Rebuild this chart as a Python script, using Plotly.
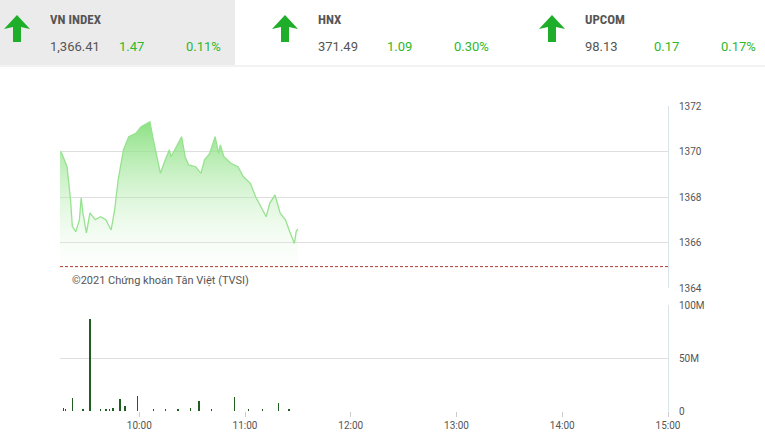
import plotly.graph_objects as go

day = "2021-06-01 "

# index line (time, value)
price_times = ["09:15", "09:16", "09:19", "09:21", "09:22", "09:24", "09:26", "09:27", "09:28", "09:30",
               "09:32", "09:35", "09:38", "09:41", "09:44", "09:46", "09:48", "09:51", "09:54", "09:58",
               "10:01", "10:04", "10:06", "10:08", "10:10", "10:12", "10:14", "10:17", "10:18", "10:21",
               "10:24", "10:26", "10:28", "10:32", "10:35", "10:37", "10:40", "10:43", "10:45", "10:46",
               "10:48", "10:52", "10:56", "10:59", "11:03", "11:06", "11:09", "11:12", "11:14", "11:17",
               "11:20", "11:23", "11:25", "11:28", "11:29", "11:30"]
price_values = [1370.0, 1369.92, 1369.33, 1367.87, 1366.7, 1366.48, 1366.99, 1367.96, 1367.3, 1366.42,
                1367.3, 1367.0, 1367.13, 1367.0, 1366.55, 1367.43, 1368.75, 1370.07, 1370.65, 1370.8,
                1371.09, 1371.24, 1371.31, 1370.5, 1369.77, 1369.04, 1369.48, 1370.07, 1369.77, 1370.2,
                1370.65, 1369.77, 1369.41, 1369.33, 1369.04, 1369.63, 1369.92, 1370.65, 1369.92, 1370.29,
                1369.77, 1369.48, 1369.33, 1368.9, 1368.6, 1368.01, 1367.57, 1367.13, 1367.72, 1368.09,
                1367.28, 1366.99, 1366.55, 1365.96, 1366.48, 1366.6]
ref_value = 1364.94

# volume bars
vol_times = ["09:17", "09:18", "09:22", "09:28", "09:32", "09:38", "09:41", "09:43", "09:45", "09:49",
             "09:52", "09:59", "10:08", "10:15", "10:22", "10:29", "10:34", "10:41", "10:54", "11:02",
             "11:10", "11:19", "11:25"]
vol_values = [3e6, 2e6, 12e6, 1e6, 87e6, 1e6, 1.5e6, 1e6, 2.5e6, 11e6,
              5e6, 14e6, 1e6, 2e6, 1.5e6, 3e6, 9e6, 1e6, 13e6, 1e6,
              1.5e6, 8e6, 1e6]

headers = [("VN INDEX", "1,366.41", "1.47", "0.11%"),
           ("HNX", "371.49", "1.09", "0.30%"),
           ("UPCOM", "98.13", "0.17", "0.17%")]

W, H = 765, 445
green = "#2db82d"
px = lambda v: v / W
py = lambda v: 1 - v / H

fig = go.Figure()
x_price = [day + t for t in price_times]
fig.add_trace(go.Scatter(x=x_price, y=[1364.0] * len(x_price), mode="lines",
                         line=dict(width=0), hoverinfo="skip", showlegend=False))
fig.add_trace(go.Scatter(x=x_price, y=price_values, mode="lines", fill="tonexty",
                         line=dict(color="#96e28f", width=1.3),
                         fillgradient=dict(type="vertical",
                                           colorscale=[[0, "rgba(255,255,255,0)"], [1, "rgba(120,220,110,0.85)"]]),
                         showlegend=False))
fig.add_trace(go.Scatter(x=[day + "09:15", day + "15:00"], y=[ref_value, ref_value], mode="lines",
                         line=dict(color="#b03a2e", width=1, dash="3px,2px"), showlegend=False))
fig.add_trace(go.Bar(x=[day + t for t in vol_times], y=vol_values, marker_color="#1e5e1e",
                     marker_line_width=0, width=18000, xaxis="x2", yaxis="y2", showlegend=False))

xr = [day + "09:15", day + "15:00"]
xdom = [px(60), px(668)]
tickv = [day + h for h in ["10:00", "11:00", "12:00", "13:00", "14:00", "15:00"]]
fig.update_layout(
    width=W, height=H, margin=dict(l=0, r=0, t=0, b=0, autoexpand=False),
    paper_bgcolor="white", plot_bgcolor="white",
    font=dict(family="Roboto, sans-serif", size=10, color="#555"),
    xaxis=dict(domain=xdom, range=xr, anchor="y", showticklabels=False, showgrid=False,
               zeroline=False),
    yaxis=dict(domain=[py(288), py(106)], range=[1364, 1372], dtick=2, side="right",
               showgrid=True, gridcolor="#dedede", zeroline=False, showline=True,
               linecolor="#d8e4ec", ticks="", ticklabelstandoff=8, anchor="x"),
    xaxis2=dict(domain=xdom, range=xr, anchor="y2", tickvals=tickv,
                ticktext=["10:00", "11:00", "12:00", "13:00", "14:00", "15:00"],
                showgrid=False, ticks="outside", ticklen=5, tickcolor="#ccc", zeroline=False),
    yaxis2=dict(domain=[py(411), py(305)], range=[0, 100e6], tickvals=[0, 50e6, 100e6],
                ticktext=["0", "50M", "100M"], side="right", showgrid=True, gridcolor="#dedede",
                zeroline=False, showline=True, linecolor="#d8e4ec", ticklabelstandoff=8, anchor="x2"),
    bargap=0,
)

# header
fig.add_shape(type="rect", xref="paper", yref="paper", x0=0, x1=px(235), y0=py(65), y1=1,
              fillcolor="#ebebeb", line_width=0, layer="below")
fig.add_shape(type="line", xref="paper", yref="paper", x0=0, x1=1, y0=py(66), y1=py(66),
              line=dict(color="#e6e6e6", width=1))
fig.add_annotation(xref="paper", yref="paper", x=px(70), y=py(280), text="©2021 Chứng khoán Tân Việt (TVSI)",
                   showarrow=False, xanchor="left", yanchor="middle", font=dict(size=11, color="#555"))
for i, (name, val, chg, pct) in enumerate(headers):
    x0 = [0, 268, 535][i]
    c = x0 + 17
    pts = [(c, 15), (c + 13, 29), (c + 4, 27), (c + 4, 42), (c - 4, 42), (c - 4, 27), (c - 13, 29)]
    path = "M " + " L ".join(f"{px(a)},{py(b)}" for a, b in pts) + " Z"
    fig.add_shape(type="path", xref="paper", yref="paper", path=path, fillcolor="#1fae2a", line_width=0)
    fig.add_annotation(xref="paper", yref="paper", x=px(x0 + 48), y=py(19), text="<b>" + name + "</b>",
                       showarrow=False, xanchor="left", yanchor="middle",
                       font=dict(size=13, color="#555", family="Roboto Condensed, Roboto, sans-serif"))
    fig.add_annotation(xref="paper", yref="paper", x=px(x0 + 48), y=py(47), text=val,
                       showarrow=False, xanchor="left", yanchor="middle", font=dict(size=13, color="#555"))
    fig.add_annotation(xref="paper", yref="paper", x=px(x0 + 117), y=py(47), text=chg,
                       showarrow=False, xanchor="left", yanchor="middle", font=dict(size=13, color=green))
    fig.add_annotation(xref="paper", yref="paper", x=px(x0 + 223), y=py(47), text=pct,
                       showarrow=False, xanchor="right", yanchor="middle", font=dict(size=13, color=green))

fig.write_html("out.html", config={"displayModeBar": False},
               post_script="document.body.style.margin='0';")
